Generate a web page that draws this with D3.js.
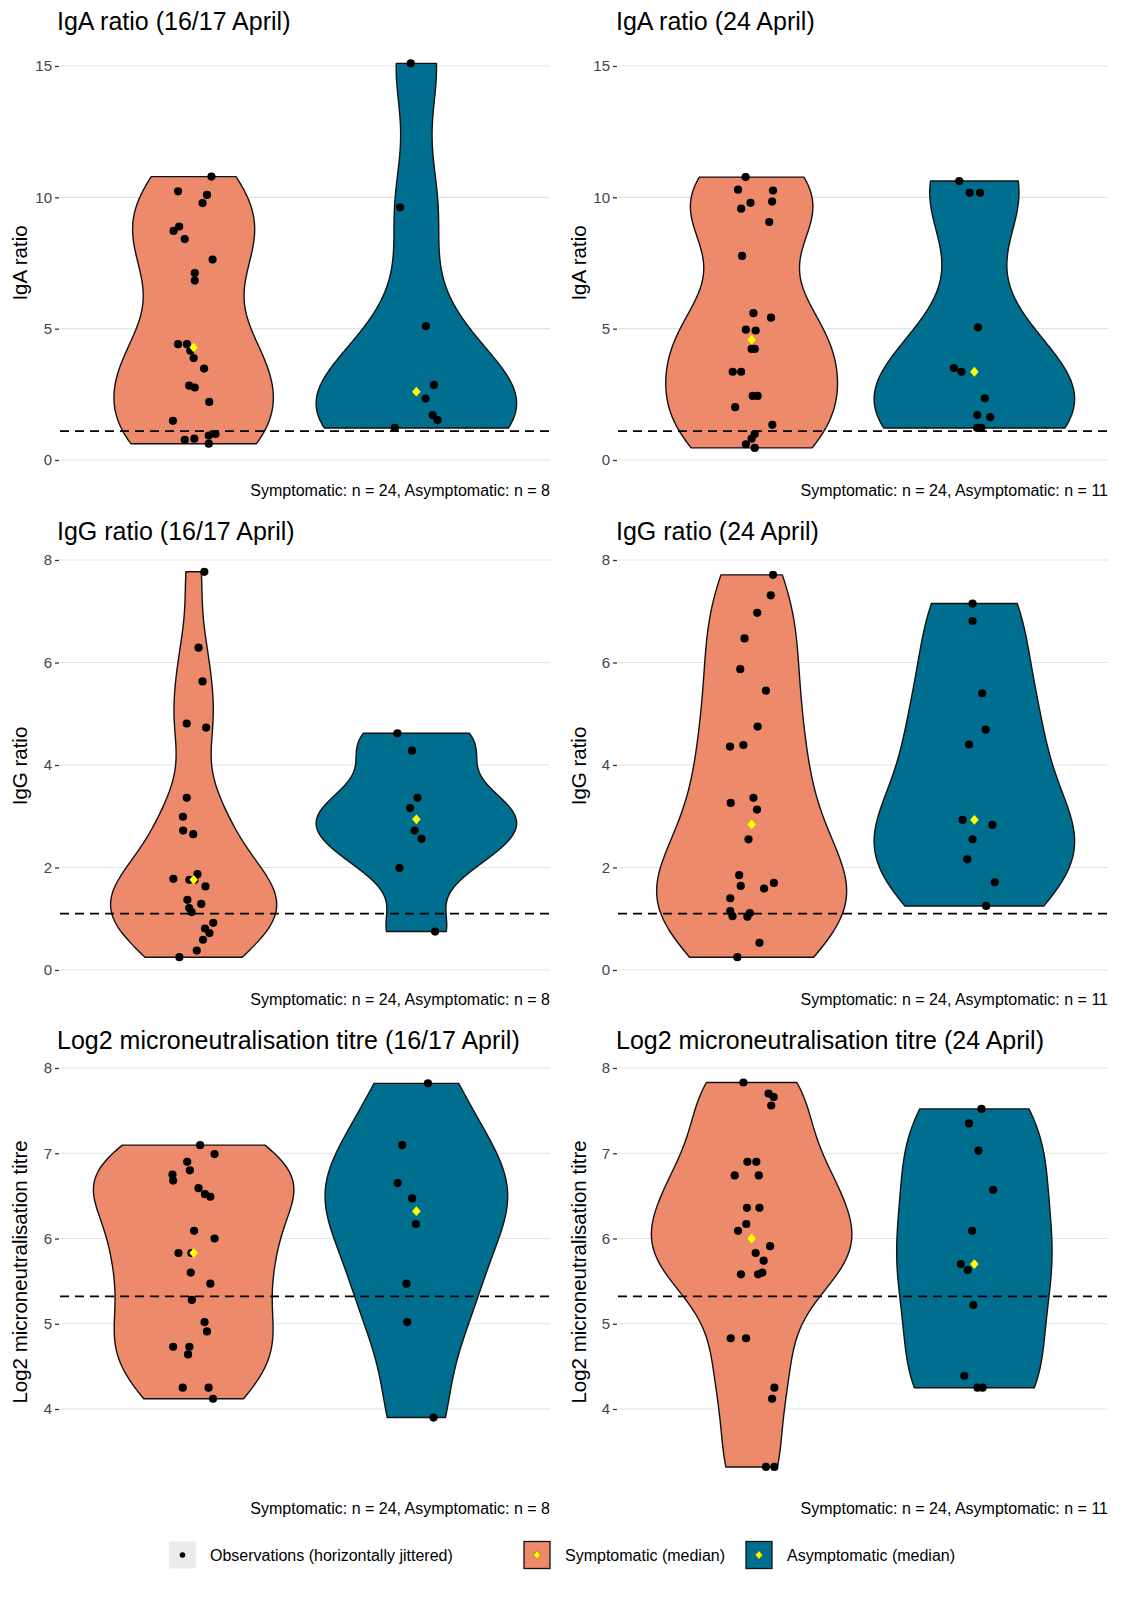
<!DOCTYPE html>
<html>
<head>
<meta charset="utf-8">
<script src="https://cdn.jsdelivr.net/npm/d3@7"></script>
<style>
  html, body { margin: 0; padding: 0; background: #ffffff; }
  svg { display: block; font-family: "Liberation Sans", Arial, Helvetica, sans-serif; }
</style>
</head>
<body>
<svg id="chart" width="1134" height="1598"></svg>
<script>
// ---------------- DATA ----------------
const groups = ["Symptomatic", "Asymptomatic"];

// IgA ratio (16/17 April)
const igaApr16Sym = [10.79,10.23,10.09,9.78,8.89,8.72,8.41,7.63,7.12,6.83,4.41,4.41,4.16,3.88,3.48,2.83,2.76,2.21,1.49,0.99,0.93,0.77,0.81,0.62];
const igaApr16SymJit = [0.08,-0.07,0.06,0.04,-0.065,-0.09,-0.04,0.085,0.005,0.005,-0.07,-0.03,-0.015,0.0,0.047,-0.02,0.005,0.07,-0.093,0.098,0.068,-0.04,0.003,0.068];
const igaApr16Asym = [15.1,9.62,5.10,2.86,2.34,1.71,1.52,1.22];
const igaApr16AsymJit = [-0.025,-0.073,0.043,0.079,0.041,0.073,0.095,-0.097];

// IgA ratio (24 April)
const igaApr24Sym = [10.77,10.29,10.26,9.79,9.57,9.84,9.06,7.77,5.59,5.42,4.96,4.93,4.23,4.23,3.36,3.36,2.44,2.44,2.01,1.34,0.99,0.81,0.60,0.46];
const igaApr24SymJit = [-0.027,-0.061,0.096,-0.005,-0.047,0.092,0.079,-0.043,0.008,0.087,-0.026,0.018,0.0,0.014,-0.085,-0.047,0.005,0.027,-0.074,0.093,0.014,0.0,-0.026,0.014];
const igaApr24Asym = [10.62,10.17,10.17,5.05,3.50,3.36,2.35,1.71,1.63,1.22,1.22];
const igaApr24AsymJit = [-0.068,-0.021,0.026,0.016,-0.092,-0.058,0.047,0.013,0.071,0.013,0.031];

// IgG ratio (16/17 April)
const iggApr16Sym = [7.77,6.29,5.63,4.81,4.73,3.36,2.99,2.72,2.65,1.78,1.87,1.76,1.76,1.63,1.37,1.29,1.21,1.13,0.92,0.81,0.72,0.59,0.38,0.25];
const iggApr16SymJit = [0.048,0.022,0.04,-0.031,0.056,-0.031,-0.048,-0.047,-0.002,-0.091,0.017,-0.019,0.004,0.053,-0.028,0.034,-0.02,-0.009,0.088,0.051,0.071,0.042,0.014,-0.064];
const iggApr16Asym = [4.62,4.28,3.36,3.16,2.72,2.56,1.99,0.75];
const iggApr16AsymJit = [-0.085,-0.02,0.005,-0.028,-0.008,0.023,-0.076,0.084];

// IgG ratio (24 April)
const iggApr24Sym = [7.71,7.31,6.97,6.47,5.87,5.45,4.75,4.36,4.39,3.36,3.26,3.13,2.55,1.85,1.64,1.59,1.70,1.40,1.15,1.05,1.04,1.11,0.53,0.25];
const iggApr24SymJit = [0.096,0.086,0.025,-0.032,-0.051,0.064,0.027,-0.097,-0.037,0.008,-0.094,0.024,-0.014,-0.056,-0.049,0.056,0.1,-0.096,-0.096,-0.086,-0.019,-0.008,0.035,-0.064];
const iggApr24Asym = [7.15,6.81,5.40,4.69,4.40,2.93,2.83,2.55,2.16,1.71,1.25];
const iggApr24AsymJit = [-0.008,-0.008,0.035,0.051,-0.024,-0.053,0.081,-0.008,-0.032,0.092,0.053];

// Log2 microneutralisation titre (16/17 April)
const mnApr16Sym = [7.095,6.99,6.90,6.80,6.75,6.68,6.59,6.52,6.49,6.09,6.00,5.83,5.83,5.60,5.47,5.28,5.02,4.91,4.73,4.73,4.64,4.25,4.25,4.12];
const mnApr16SymJit = [0.029,0.094,-0.029,-0.017,-0.095,-0.092,0.022,0.051,0.075,0.002,0.094,-0.068,-0.01,-0.013,0.075,-0.008,0.049,0.06,-0.092,-0.019,-0.025,-0.049,0.067,0.087];
const mnApr16Asym = [7.82,7.095,6.65,6.47,6.17,5.47,5.02,3.90];
const mnApr16AsymJit = [0.052,-0.064,-0.084,-0.019,-0.002,-0.044,-0.041,0.077];

// Log2 microneutralisation titre (24 April)
const mnApr24Sym = [7.83,7.70,7.66,7.56,6.90,6.90,6.74,6.74,6.36,6.36,6.17,6.09,5.91,5.83,5.74,5.58,5.58,5.60,4.83,4.83,4.25,4.12,3.32,3.32];
const mnApr24SymJit = [-0.037,0.076,0.099,0.088,-0.019,0.021,-0.076,0.032,-0.021,0.035,-0.024,-0.061,0.083,0.018,0.054,-0.048,0.029,0.048,-0.094,-0.025,0.102,0.092,0.064,0.102];
const mnApr24Asym = [7.52,7.35,7.03,6.57,6.09,5.70,5.63,5.22,4.39,4.25,4.25];
const mnApr24AsymJit = [0.032,-0.024,0.018,0.084,-0.01,-0.061,-0.03,-0.005,-0.045,0.014,0.037];

// Axis ticks and thresholds
const igaTicks = [0, 5, 10, 15];
const iggTicks = [0, 2, 4, 6, 8];
const mnTicks = [4, 5, 6, 7, 8];
const igaThreshold = 1.1;
const iggThreshold = 1.1;
const mnThreshold = 5.32;

const titles = ["IgA ratio (16/17 April)", "IgA ratio (24 April)",
                "IgG ratio (16/17 April)", "IgG ratio (24 April)",
                "Log2 microneutralisation titre (16/17 April)", "Log2 microneutralisation titre (24 April)"];
const yTitles = ["IgA ratio", "IgG ratio", "Log2 microneutralisation titre"];
const legendLabels = ["Observations (horizontally jittered)", "Symptomatic (median)", "Asymptomatic (median)"];

// ---------------- LAYOUT / STYLE ----------------
const COL_ORANGE = "#EC8A6B";
const COL_BLUE = "#006F8F";
const cols = [
  { L: 60, R: 550, yTitleX: 20, titleX: 57 },
  { L: 618, R: 1108, yTitleX: 579, titleX: 616 }
];
const rows = [
  { dom: [0, 15], rng: [460, 66], ticks: igaTicks, thr: igaThreshold, titleY: 30, capY: 496, yTitleY: 263 },
  { dom: [0, 8], rng: [970, 560], ticks: iggTicks, thr: iggThreshold, titleY: 540, capY: 1005, yTitleY: 766 },
  { dom: [4, 8], rng: [1409, 1068], ticks: mnTicks, thr: mnThreshold, titleY: 1049, capY: 1514, yTitleY: 1272 }
];

const panels = [
  { r: 0, c: 0, sym: igaApr16Sym, symJ: igaApr16SymJit, asym: igaApr16Asym, asymJ: igaApr16AsymJit },
  { r: 0, c: 1, sym: igaApr24Sym, symJ: igaApr24SymJit, asym: igaApr24Asym, asymJ: igaApr24AsymJit },
  { r: 1, c: 0, sym: iggApr16Sym, symJ: iggApr16SymJit, asym: iggApr16Asym, asymJ: iggApr16AsymJit },
  { r: 1, c: 1, sym: iggApr24Sym, symJ: iggApr24SymJit, asym: iggApr24Asym, asymJ: iggApr24AsymJit },
  { r: 2, c: 0, sym: mnApr16Sym, symJ: mnApr16SymJit, asym: mnApr16Asym, asymJ: mnApr16AsymJit },
  { r: 2, c: 1, sym: mnApr24Sym, symJ: mnApr24SymJit, asym: mnApr24Asym, asymJ: mnApr24AsymJit }
];

// ---------------- KDE (ggplot-like violin) ----------------
function bwNrd0(x) {
  const s = x.slice().sort(d3.ascending);
  const sd = d3.deviation(s);
  const iqr = d3.quantile(s, 0.75) - d3.quantile(s, 0.25);
  let lo = Math.min(sd, iqr / 1.34);
  if (!(lo > 0)) lo = sd || Math.abs(s[0]) || 1;
  return 0.9 * lo * Math.pow(s.length, -0.2);
}
function kde(x, n) {
  const bw = bwNrd0(x);
  const lo = d3.min(x), hi = d3.max(x);
  const out = [];
  for (let i = 0; i < n; i++) {
    const y = lo + (hi - lo) * i / (n - 1);
    let s = 0;
    for (const v of x) { const z = (y - v) / bw; s += Math.exp(-0.5 * z * z); }
    out.push({ y: y, d: s / (x.length * bw * Math.sqrt(2 * Math.PI)) });
  }
  return out;
}
// ggplot shape-18-like diamond
function diamond(hw, hh) {
  return `M0,${-hh}L${hw},0L0,${hh}L${-hw},0Z`;
}

// ---------------- DRAW ----------------
const svg = d3.select("#chart");
svg.append("rect").attr("width", 1134).attr("height", 1598).attr("fill", "#fff");

panels.forEach((p, idx) => {
  const col = cols[p.c], row = rows[p.r];
  const g = svg.append("g");
  const y = d3.scaleLinear().domain(row.dom).range(row.rng);
  const x = d3.scalePoint().domain(groups).range([col.L, col.R]).padding(0.6);
  const step = x.step();

  // gridlines
  g.selectAll("line.grid").data(row.ticks).join("line")
    .attr("x1", col.L).attr("x2", col.R)
    .attr("y1", d => y(d)).attr("y2", d => y(d))
    .attr("stroke", "#E3E3E3").attr("stroke-width", 1.1);

  // y axis via d3.axisLeft
  const axis = d3.axisLeft(y).tickValues(row.ticks).tickSize(4).tickPadding(3).tickFormat(d3.format("d"));
  const ag = g.append("g").attr("transform", `translate(${col.L - 1},0)`).call(axis);
  ag.select(".domain").remove();
  ag.selectAll(".tick line").attr("stroke", "#333").attr("stroke-width", 1.3);
  ag.selectAll(".tick text").attr("fill", "#444").style("font-size", "15px")
    .style("font-family", '"Liberation Sans", Arial, sans-serif');

  // y title
  g.append("text")
    .attr("transform", `translate(${col.yTitleX},${row.yTitleY}) rotate(-90)`)
    .attr("text-anchor", "middle").attr("dy", "0.35em")
    .style("font-size", "20.5px").attr("fill", "#000")
    .text(yTitles[p.r]);

  // title
  g.append("text").attr("x", col.titleX).attr("y", row.titleY)
    .style("font-size", "25px").attr("fill", "#000")
    .text(titles[idx]);

  // caption
  g.append("text").attr("x", col.R).attr("y", row.capY)
    .attr("text-anchor", "end").style("font-size", "16px").attr("fill", "#000")
    .text(`Symptomatic: n = ${p.sym.length}, Asymptomatic: n = ${p.asym.length}`);

  // violins (scale = "area": common max density in panel)
  const dens = [kde(p.sym, 512), kde(p.asym, 512)];
  const maxD = d3.max(dens.flat(), d => d.d);
  const colors = [COL_ORANGE, COL_BLUE];
  dens.forEach((dd, gi) => {
    const cx = x(groups[gi]);
    const hw = d => d.d / maxD * 0.9 * step / 2;
    const pts = dd.map(d => [cx - hw(d), y(d.y)]).concat(dd.slice().reverse().map(d => [cx + hw(d), y(d.y)]));
    g.append("path")
      .attr("d", d3.line()(pts) + "Z")
      .attr("fill", colors[gi]).attr("stroke", "#111").attr("stroke-width", 1.4)
      .attr("stroke-linejoin", "round");
  });

  // threshold dashed line
  g.append("line").attr("x1", col.L).attr("x2", col.R)
    .attr("y1", y(row.thr)).attr("y2", y(row.thr))
    .attr("stroke", "#000").attr("stroke-width", 1.8).attr("stroke-dasharray", "9,6");

  // jittered points
  const sets = [[p.sym, p.symJ], [p.asym, p.asymJ]];
  sets.forEach(([vals, jit], gi) => {
    const cx = x(groups[gi]);
    g.selectAll(null).data(vals).join("circle")
      .attr("cx", (d, i) => cx + jit[i] * step)
      .attr("cy", d => y(d))
      .attr("r", 4.1).attr("fill", "#000");
  });

  // medians (yellow diamonds)
  [p.sym, p.asym].forEach((vals, gi) => {
    const m = d3.median(vals);
    g.append("path")
      .attr("d", diamond(4.3, 4.9))
      .attr("transform", `translate(${x(groups[gi])},${y(m)})`)
      .attr("fill", "#FFFF00");
  });
});

// ---------------- LEGEND ----------------
const lg = svg.append("g").attr("transform", "translate(0,1555)");
// observations key
lg.append("rect").attr("x", 169).attr("y", -13.5).attr("width", 27).attr("height", 27).attr("fill", "#EBEBEB");
lg.append("circle").attr("cx", 182.5).attr("cy", 0).attr("r", 2.8).attr("fill", "#000");
lg.append("text").attr("x", 210).attr("y", 0).attr("dy", "0.35em").style("font-size", "16px").text(legendLabels[0]);
// median keys
[[524, COL_ORANGE, legendLabels[1], 565], [746, COL_BLUE, legendLabels[2], 787]].forEach(([kx, fill, label, tx]) => {
  lg.append("rect").attr("x", kx).attr("y", -13.5).attr("width", 26).attr("height", 27)
    .attr("fill", fill).attr("stroke", "#111").attr("stroke-width", 1.3);
  lg.append("path").attr("d", diamond(3.6, 4.2))
    .attr("transform", `translate(${kx + 13},0)`).attr("fill", "#FFFF00").attr("stroke", "#6b5e00").attr("stroke-width", 0.5);
  lg.append("text").attr("x", tx).attr("y", 0).attr("dy", "0.35em").style("font-size", "16px").text(label);
});
</script>
</body>
</html>
